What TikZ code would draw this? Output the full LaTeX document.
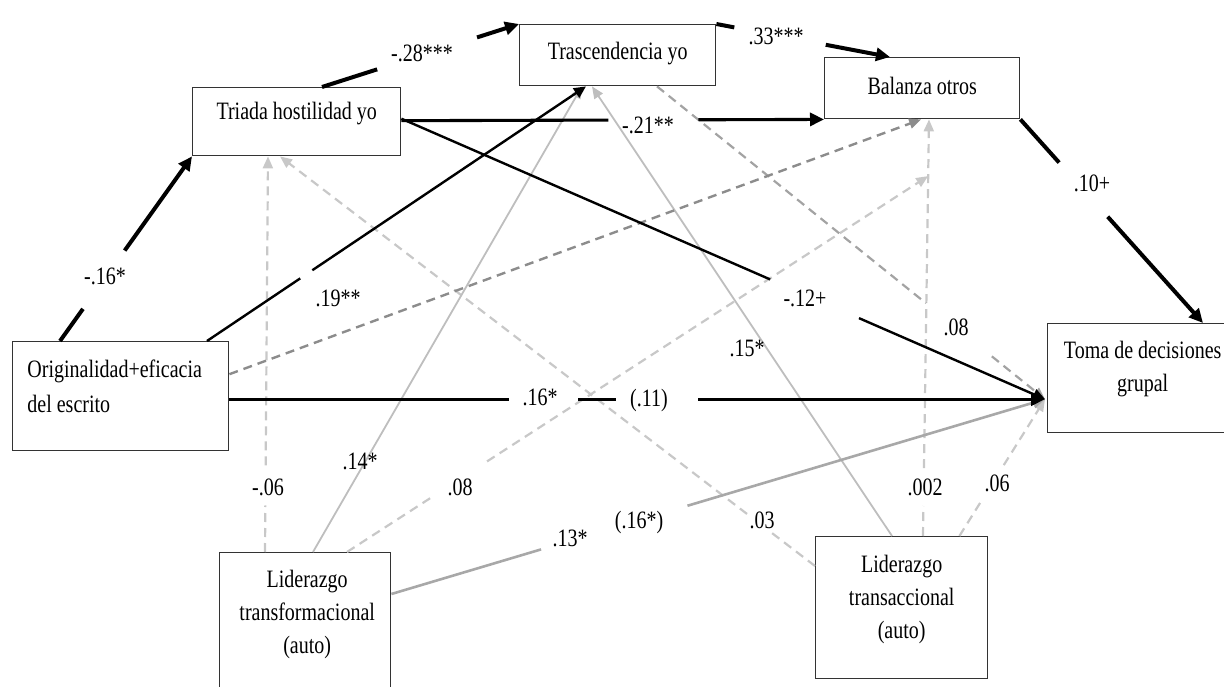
\documentclass[tikz,border=0pt]{standalone}
\usepackage{fontspec}
\setmainfont{Liberation Serif}[FakeStretch=0.8]
\usetikzlibrary{arrows.meta}
\definecolor{boxc}{HTML}{333333}
\definecolor{lightg}{HTML}{C8C8C8}
\definecolor{solg}{HTML}{BEBEBE}
\definecolor{midg}{HTML}{A3A3A3}
\definecolor{darkg}{HTML}{8C8C8C}
\definecolor{gsol}{HTML}{A8A8A8}
\newcommand{\gapline}[7]{%
  \path #3 -- #4 coordinate[pos=#5] (#7a) coordinate[pos=#6] (#7b);
  \draw[#1] #3 -- (#7a);
  \draw[#1,#2] (#7b) -- #4;}
\tikzset{
  box/.style={draw=boxc, line width=1.4pt, rectangle, inner sep=0pt, anchor=north west},
  lbl/.style={inner sep=0pt},
  thk/.style={draw=black, line width=4pt},
  medk/.style={draw=black, line width=3.1pt},
  thnk/.style={draw=black, line width=2.4pt},
  ldash/.style={draw=lightg, line width=2.2pt, dash pattern=on 9pt off 6pt},
  mdash/.style={draw=midg, line width=2.2pt, dash pattern=on 9pt off 6pt},
  ddash/.style={draw=darkg, line width=2.4pt, dash pattern=on 9pt off 6pt},
  lsol/.style={draw=solg, line width=1.8pt},
  gsolid/.style={draw=gsol, line width=2.6pt},
  tipK/.style={-{Triangle[length=14pt,width=13pt]}},
  tipM/.style={-{Triangle[length=12pt,width=11pt]}},
  tipL/.style={-{Triangle[length=12pt,width=10pt]}},
}
\begin{document}
\begin{tikzpicture}[x=1pt,y=-1pt,font=\fontsize{25}{33}\selectfont]
\useasboundingbox (0,0) rectangle (1224,687);
% boxes
\node[box, minimum width=216pt, minimum height=109pt,
  label={[align=left, xshift=-6pt, yshift=10pt, font=\fontsize{25}{35}\selectfont]center:{Originalidad+eficacia\\del escrito}}] (orig) at (12,341) {};
\node[box, minimum width=208pt, minimum height=68pt,
  label={[yshift=8pt]center:Triada hostilidad yo}] (triada) at (192,87) {};
\node[box, minimum width=196pt, minimum height=61pt,
  label={[yshift=2pt]center:Trascendencia yo}] (trasc) at (519,24) {};
\node[box, minimum width=195pt, minimum height=61pt,
  label={[yshift=2pt]center:Balanza otros}] (balanza) at (824,57) {};
\node[box, minimum width=190pt, minimum height=109pt,
  label={[align=center, yshift=9pt]center:{Toma de decisiones\\grupal}}] (toma) at (1047,323) {};
\node[box, minimum width=171pt, minimum height=150pt,
  label={[align=center, xshift=2pt, yshift=13.5pt]center:{Liderazgo\\transformacional\\(auto)}}] (ltf) at (219,552) {};
\node[box, minimum width=172pt, minimum height=142pt,
  label={[align=center, yshift=8.5pt]center:{Liderazgo\\transaccional\\(auto)}}] (ltacc) at (815,536) {};
\coordinate (tin) at ([xshift=-2pt,yshift=-21pt]toma.west);

% light gray lines
\gapline{ldash}{tipL}{([xshift=46pt]ltf.north west)}{([xshift=76pt]triada.south west)}{0.118}{0.219}{c9}
\gapline{ldash}{tipL}{([yshift=-30pt]ltacc.north west)}{([xshift=88pt]triada.south west)}{0.084}{0.127}{c13}
\path ([xshift=108pt]ltacc.north west) -- ([xshift=105pt]balanza.south west)
  coordinate[pos=0.072] (c15a) coordinate[pos=0.163] (c15b) coordinate[pos=0.864] (m1);
\draw[ldash] ([xshift=108pt]ltacc.north west) -- (c15a);
\draw[ldash,tipL] (c15b) -- ([xshift=105pt]balanza.south west);
\gapline{ldash}{tipL}{([xshift=128pt]ltf.north west)}{(m1)}{0.143}{0.241}{c11}
\gapline{ldash}{tipL}{([xshift=-29pt]ltacc.north east)}{(tin)}{0.263}{0.518}{c16}
\draw[lsol,tipL] ([xshift=94pt]ltf.north west) -- ([xshift=63pt]trasc.south west);
\draw[lsol,tipL] ([xshift=77pt]ltacc.north west) -- ([xshift=73pt]trasc.south west);
\gapline{mdash}{tipL}{([xshift=138pt]trasc.south west)}{(tin)}{0.693}{0.863}{c17}
\draw[ddash,tipL] ([yshift=22pt]orig.east) -- ([xshift=-1pt]balanza.south);
\gapline{gsolid}{tipM}{([yshift=-42pt]ltf.north east)}{(tin)}{0.229}{0.453}{c12}

% black lines
\gapline{thk}{tipK}{([xshift=48pt]orig.north west)}{(triada.south west)}{0.174}{0.49}{c1}
\gapline{thk}{tipK}{([xshift=130pt]triada.north west)}{(trasc.north west)}{0.28}{0.787}{c2}
\gapline{thk}{tipK}{(trasc.north east)}{([xshift=66pt]balanza.north west)}{0.103}{0.63}{c3}
\gapline{medk}{tipK}{([yshift=1pt]triada.east)}{(balanza.south west)}{0.49}{0.703}{c4}
\gapline{thnk}{tipM}{([yshift=3pt]triada.east)}{(tin)}{0.573}{0.711}{c5}
\gapline{thnk}{tipM}{([xshift=195pt]orig.north west)}{([xshift=67pt]trasc.south west)}{0.246}{0.278}{c6}
\path (orig.east |- tin) -- (tin) coordinate[pos=0.343] (c8a) coordinate[pos=0.428] (c8b)
  coordinate[pos=0.474] (c8c) coordinate[pos=0.575] (c8d);
\draw[medk] (orig.east |- tin) -- (c8a);
\draw[medk] (c8b) -- (c8c);
\draw[medk,tipK] (c8d) -- (tin);
\gapline{thk}{tipK}{(balanza.south east)}{([xshift=156pt]toma.north west)}{0.212}{0.478}{c18}

% labels
\node[lbl] (l1) at (105,276) {-.16*};
\node[lbl] (l2) at (422,53) {-.28***};
\node[lbl] (l3) at (776,36) {.33***};
\node[lbl] (l4) at (648,125) {-.21**};
\node[lbl] (l5) at (805,298) {-.12+};
\node[lbl] (l6) at (338,298) {.19**};
\node[lbl] (l8a) at (540,397) {.16*};
\node[lbl] (l8b) at (649,400) {(.11)};
\node[lbl] (l9) at (268,487) {-.06};
\node[lbl] (l10) at (360,461) {.14*};
\node[lbl] (l11) at (460,487) {.08};
\node[lbl] (l12a) at (570,538) {.13*};
\node[lbl] (l12b) at (639,522) {(.16*)};
\node[lbl] (l13) at (762,520) {.03};
\node[lbl] (l14) at (747,348) {.15*};
\node[lbl] (l15) at (925,487) {.002};
\node[lbl] (l16) at (997,483) {.06};
\node[lbl] (l17) at (956,327) {.08};
\node[lbl] (l18) at (1092,183) {.10+};
\end{tikzpicture}
\end{document}
